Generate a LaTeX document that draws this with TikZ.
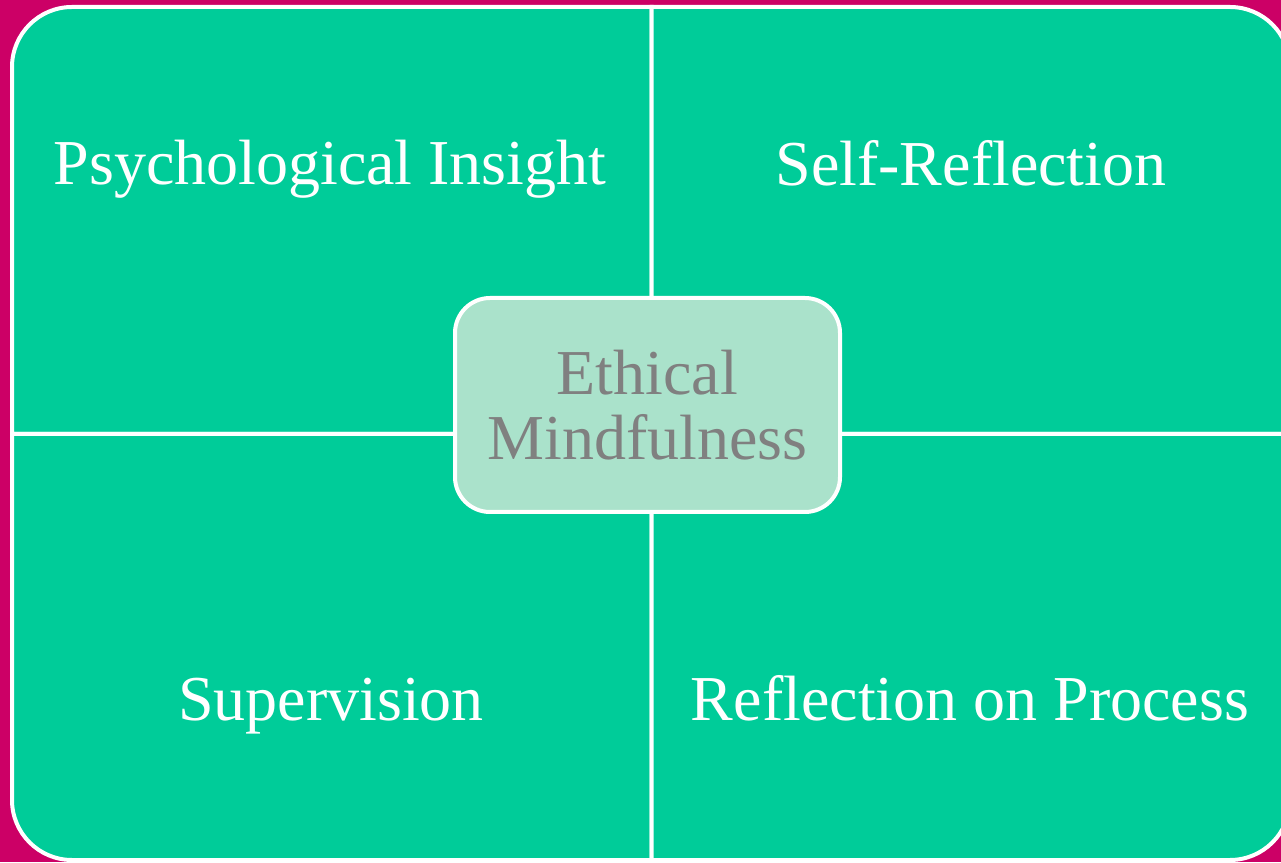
\documentclass[tikz,border=0pt]{standalone}
\usepackage{fontspec}
\setmainfont{Liberation Serif}
\usepackage{tikz}
\usetikzlibrary{calc}
\definecolor{bgmagenta}{HTML}{CC0066}
\definecolor{quadgreen}{HTML}{00CC99}
\definecolor{centregreen}{HTML}{AAE2CB}
\definecolor{centregray}{HTML}{808080}
\def\bigfont{\fontsize{64}{65}\selectfont}
\def\drawquad{\filldraw[fill=quadgreen, draw=white, line width=4pt]}
\def\quadlabel{\node[text=white, font=\bigfont, anchor=base, inner sep=0pt]}

\begin{document}
\begin{tikzpicture}[x=1pt,y=1pt]
\useasboundingbox (0,0) rectangle (1281,862);
\fill[bgmagenta] (0,0) rectangle (1281,862);
\clip (0,0) rectangle (1281,862);

\coordinate (mid) at (651.5,428); % where the four quadrants meet
\coordinate (lefttop) at (12,855);
\coordinate (rightbot) at (1290,2);

% ---------- the four quadrants, each with one rounded outer corner
\drawquad (mid) -- (12,428) -- (12,795) arc[start angle=180, end angle=90, radius=60] -- (651.5,855) -- cycle;
\drawquad (mid) -- (651.5,855) -- (1230,855) arc[start angle=90, end angle=0, radius=60] -- (1290,428) -- cycle;
\drawquad (mid) -- (12,428) -- (12,62) arc[start angle=180, end angle=270, radius=60] -- (651.5,2) -- cycle;
\drawquad (mid) -- (1290,428) -- (1290,62) arc[start angle=0, end angle=-90, radius=60] -- (651.5,2) -- cycle;

% ---------- labels in the quadrants
\quadlabel (insight) at (330,677) {Psychological Insight};
\quadlabel (selfrefl) at (971,676) {Self-Reflection};
\quadlabel (superv) at (331,142) {Supervision};
\quadlabel (process) at (970,142) {Reflection on Process};

% ---------- the centre box
\node[rectangle, rounded corners=35pt, fill=centregreen, draw=white, line width=4pt,
      minimum width=385pt, minimum height=214pt, align=center, text=centregray,
      font=\bigfont, inner sep=0pt] (ethics) at (647.5,457) {Ethical\\Mindfulness};
\end{tikzpicture}
\end{document}
